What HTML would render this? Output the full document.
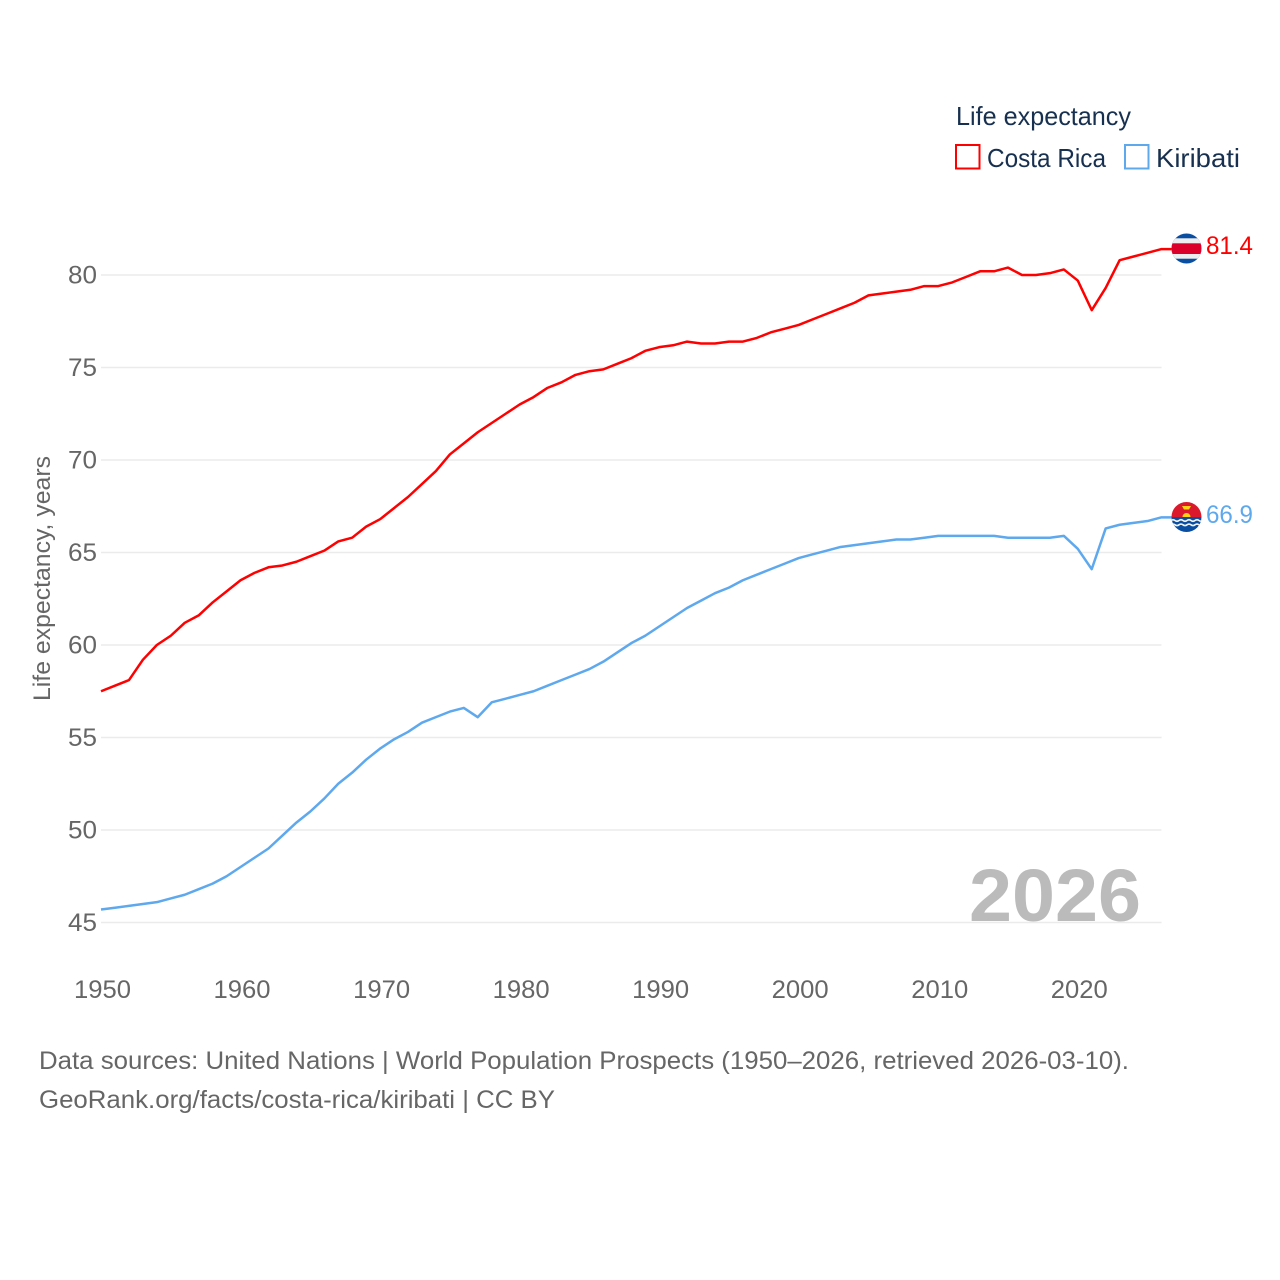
<!DOCTYPE html>
<html>
<head>
<meta charset="utf-8">
<style>
html,body{margin:0;padding:0;background:#fff;width:1280px;height:1280px;overflow:hidden}
svg{display:block;font-family:"Liberation Sans",sans-serif}
text{font-family:"Liberation Sans",sans-serif}
</style>
</head>
<body>
<svg id="chart" xmlns="http://www.w3.org/2000/svg" width="1280" height="1280" viewBox="0 0 1280 1280">
  <defs>
    <clipPath id="flag-clip-cr"><circle cx="1186.500" cy="248.500" r="15"/></clipPath>
    <clipPath id="flag-clip-ki"><circle cx="1186.500" cy="517" r="15"/></clipPath>
  </defs>
  <g id="grid"></g>
  <g id="y-ticks"></g>
  <g id="x-ticks"></g>
  <text transform="translate(50,701) rotate(-90)" font-size="24" fill="#666" textLength="245" lengthAdjust="spacingAndGlyphs">Life expectancy, years</text>
  <text x="969" y="921" font-size="74" font-weight="bold" fill="#bbbbbb" textLength="172" lengthAdjust="spacingAndGlyphs">2026</text>
  <g id="series"></g>

  <g clip-path="url(#flag-clip-cr)">
    <rect x="1171" y="233" width="31" height="31" fill="#0a4ea2"/>
    <rect x="1171" y="238.300" width="31" height="20.400" fill="#eeeeee"/>
    <rect x="1171" y="243.300" width="31" height="10.700" fill="#da0029"/>
  </g>
  <g clip-path="url(#flag-clip-ki)">
    <rect x="1171" y="501" width="31" height="16" fill="#da1a2c"/>
    <rect x="1171" y="517" width="31" height="16" fill="#0a4ea2"/>
    <path d="M1182.500 517a4 4 0 0 1 8 0z M1182 506h9l-2 3.500h-5z" fill="#fcd116"/>
    <path d="M1171 520.500q2 -1.500 4 0t4 0t4 0t4 0t4 0t4 0t4 0t4 0M1171 524.800q2 -1.500 4 0t4 0t4 0t4 0t4 0t4 0t4 0t4 0" fill="none" stroke="#f4f4f4" stroke-width="1.600"/>
  </g>
  <text x="1206" y="254" font-size="25" fill="#ff0000" textLength="47" lengthAdjust="spacingAndGlyphs">81.4</text>
  <text x="1206" y="523" font-size="25" fill="#5ea8ee" textLength="47" lengthAdjust="spacingAndGlyphs">66.9</text>

  <g>
    <text x="956" y="125" font-size="26" fill="#17304f" textLength="175" lengthAdjust="spacingAndGlyphs">Life expectancy</text>
    <rect x="956" y="145" width="23.500" height="23.500" fill="#fff" stroke="#ff0000" stroke-width="2"/>
    <text x="987" y="167" font-size="26" fill="#17304f" textLength="119" lengthAdjust="spacingAndGlyphs">Costa Rica</text>
    <rect x="1125" y="145" width="23.500" height="23.500" fill="#fff" stroke="#5ea8ee" stroke-width="2"/>
    <text x="1156" y="167" font-size="26" fill="#17304f" textLength="84" lengthAdjust="spacingAndGlyphs">Kiribati</text>
  </g>

  <text x="39" y="1069" font-size="25" fill="#666" textLength="1090" lengthAdjust="spacingAndGlyphs">Data sources: United Nations | World Population Prospects (1950–2026, retrieved 2026-03-10).</text>
  <text x="39" y="1108" font-size="25" fill="#666" textLength="516" lengthAdjust="spacingAndGlyphs">GeoRank.org/facts/costa-rica/kiribati | CC BY</text>
</svg>
<script>
const startYear = 1950;
const yTickValues = [45, 50, 55, 60, 65, 70, 75, 80];
const xTickValues = [1950, 1960, 1970, 1980, 1990, 2000, 2010, 2020];
const costaRica = [57.5,57.8,58.1,59.2,60.0,60.5,61.2,61.6,62.3,62.9,63.5,63.9,64.2,64.3,64.5,64.8,65.1,65.6,65.8,66.4,66.8,67.4,68.0,68.7,69.4,70.3,70.9,71.5,72.0,72.5,73.0,73.4,73.9,74.2,74.6,74.8,74.9,75.2,75.5,75.9,76.1,76.2,76.4,76.3,76.3,76.4,76.4,76.6,76.9,77.1,77.3,77.6,77.9,78.2,78.5,78.9,79.0,79.1,79.2,79.4,79.4,79.6,79.9,80.2,80.2,80.4,80.0,80.0,80.1,80.3,79.7,78.1,79.3,80.8,81.0,81.2,81.4];
const kiribati = [45.7,45.8,45.9,46.0,46.1,46.3,46.5,46.8,47.1,47.5,48.0,48.5,49.0,49.7,50.4,51.0,51.7,52.5,53.1,53.8,54.4,54.9,55.3,55.8,56.1,56.4,56.6,56.1,56.9,57.1,57.3,57.5,57.8,58.1,58.4,58.7,59.1,59.6,60.1,60.5,61.0,61.5,62.0,62.4,62.8,63.1,63.5,63.8,64.1,64.4,64.7,64.9,65.1,65.3,65.4,65.5,65.6,65.7,65.7,65.8,65.9,65.9,65.9,65.9,65.9,65.8,65.8,65.8,65.8,65.9,65.2,64.1,66.3,66.5,66.6,66.7,66.9];

const NS = 'http://www.w3.org/2000/svg';
const xScale = function (year) { return 101 + (year - 1950) * (1161.5 - 101) / 76; };
const yScale = function (value) { return 922.5 - (value - 45) * (922.5 - 275) / 35; };

function make(tag, attrs, parent, content) {
  const el = document.createElementNS(NS, tag);
  Object.keys(attrs).forEach(function (k) { el.setAttribute(k, attrs[k]); });
  if (content !== undefined) el.textContent = content;
  parent.appendChild(el);
  return el;
}

const gridGroup = document.getElementById('grid');
const yGroup = document.getElementById('y-ticks');
const xGroup = document.getElementById('x-ticks');
const seriesGroup = document.getElementById('series');

yTickValues.forEach(function (v) {
  const line = make('line', {x1: 101, x2: 1161.5, y1: yScale(v), y2: yScale(v), stroke: '#ebebeb', 'stroke-width': 1.5}, gridGroup);
  
  
  const label = make('text', {x: 97, y: yScale(v) + 8.5, 'text-anchor': 'end', 'font-size': 25, fill: '#666', textLength: 29, lengthAdjust: 'spacingAndGlyphs'}, yGroup, String(v));
  
  
});

xTickValues.forEach(function (v) {
  const label = make('text', {x: xScale(v) + 1.5, y: 998, 'text-anchor': 'middle', 'font-size': 25, fill: '#666', textLength: 57, lengthAdjust: 'spacingAndGlyphs'}, xGroup, String(v));
  
  
});

function toPoints(values) {
  return values.map(function (v, i) {
    return xScale(startYear + i).toFixed(2) + ',' + yScale(v).toFixed(2);
  });
}

const kiribatiPoints = toPoints(kiribati);
kiribatiPoints.push('1172,' + yScale(kiribati[kiribati.length - 1]).toFixed(2));
const kiribatiLine = make('polyline', {points: kiribatiPoints.join(' '), fill: 'none', stroke: '#5ea8ee', 'stroke-width': 2.5, 'stroke-linejoin': 'round'}, seriesGroup);



const costaRicaPoints = toPoints(costaRica);
costaRicaPoints.push('1172,' + yScale(costaRica[costaRica.length - 1]).toFixed(2));
const costaRicaLine = make('polyline', {points: costaRicaPoints.join(' '), fill: 'none', stroke: '#ff0000', 'stroke-width': 2.5, 'stroke-linejoin': 'round'}, seriesGroup);


</script>
</body>
</html>
